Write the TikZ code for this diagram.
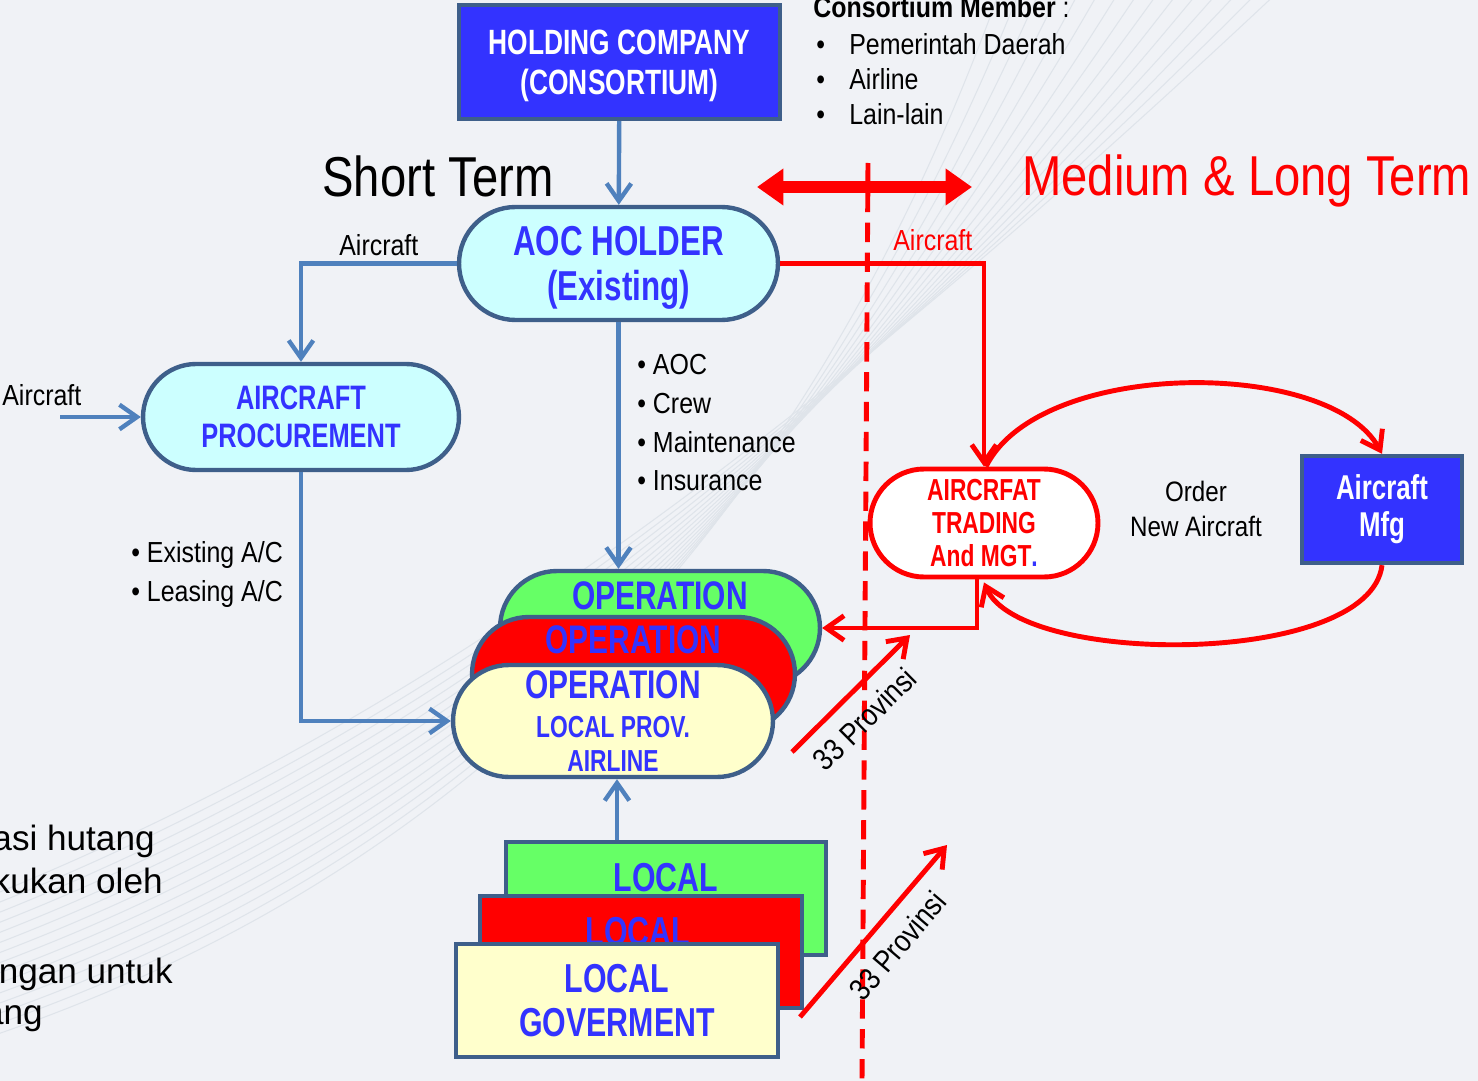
\documentclass[tikz,border=0pt]{standalone}
\usepackage{fontspec}
\setmainfont{Liberation Sans}
\newfontfamily\boxfont[FakeStretch=0.75]{Liberation Sans}
\newfontfamily\narrowfont[FakeStretch=0.86]{Liberation Sans}
\newfontfamily\titlefont[FakeStretch=0.84]{Liberation Sans}
\usetikzlibrary{arrows.meta,shapes.misc}
\definecolor{steelblue}{HTML}{4F81BD}
\definecolor{edgeblue}{HTML}{3E5F8A}
\definecolor{royal}{HTML}{3333FF}
\definecolor{paleaqua}{HTML}{CCFFFF}
\definecolor{limegreen}{HTML}{66FF66}
\definecolor{paleyellow}{HTML}{FFFFCC}
\definecolor{slidebg}{HTML}{F0F2F6}
\definecolor{swoosh}{HTML}{DFE4EA}

\begin{document}
\begin{tikzpicture}[x=0.02cm,y=-0.02cm,align=center,>={Straight Barb[length=10pt,width=14pt]}]
	\tikzstyle{darkbox}=[rectangle,draw=edgeblue,fill=royal,line width=2.5pt,text=white,font=\boxfont\bfseries]
	\tikzstyle{pill}=[rounded rectangle,draw=edgeblue,line width=2.5pt,text=royal,font=\boxfont\bfseries,inner sep=0pt]
	\tikzstyle{stackbox}=[rectangle,draw=edgeblue,line width=2.5pt,text=royal,font=\boxfont\bfseries,inner sep=0pt]
	\tikzstyle{bluelink}=[->,draw=steelblue,line width=2.5pt]
	\tikzstyle{redlink}=[->,draw=red,line width=2.8pt]
	\tikzstyle{labeltext}=[font=\narrowfont\fontsize{16.5}{20}\selectfont,inner sep=0pt]
	\tikzstyle{provtext}=[font=\narrowfont\fontsize{17.5}{20}\selectfont,inner sep=0pt,sloped,below=8pt]
	\tikzstyle{titletext}=[font=\titlefont\fontsize{32}{36}\selectfont,inner sep=0pt]
	\tikzstyle{slidetext}=[font=\fontsize{20}{24}\selectfont,inner sep=0pt]

	\useasboundingbox (0,0) rectangle (1478,1081);
	\clip (0,0) rectangle (1478,1081);
	\fill[slidebg] (0,0) rectangle (1478,1081);
	\foreach \i in {0,...,14}
		\draw[swoosh,line width=0.6pt] (-20,1040-\i*10) .. controls (400,900-\i*12) and (780,600-\i*10) .. (1000+\i*20,-10);

	\node[slidetext,anchor=base east](cut_a) at (155,850){asi hutang};
	\node[slidetext,anchor=base east](cut_b) at (163,893){kukan oleh};
	\node[slidetext,anchor=base east](cut_c) at (173,983){ngan untuk};
	\node[slidetext,anchor=base east](cut_d) at (43,1024){ang};

	\coordinate (divider_top) at (868,163);
	\coordinate (divider_bottom) at (862,1081);
	\draw[red,line width=2.8pt,dash pattern=on 11pt off 6pt](divider_top) -- (divider_bottom);

	\node[darkbox,minimum width=6.42cm,minimum height=2.28cm,text depth=0pt,font=\boxfont\bfseries\fontsize{20}{23}\selectfont](holding) at (619.5,62){HOLDING COMPANY\\(CONSORTIUM)};
	\node[labeltext,anchor=base west](members_title) at (813,18){\textbf{Consortium Member} :};
	\node[labeltext,anchor=base west](member_a) at (816,55){\makebox[0.66cm][l]{\textbullet}Pemerintah Daerah};
	\node[labeltext,anchor=base west](member_b) at (816,90){\makebox[0.66cm][l]{\textbullet}Airline};
	\node[labeltext,anchor=base west](member_c) at (816,125){\makebox[0.66cm][l]{\textbullet}Lain-lain};

	\node[titletext,anchor=base west](short_term) at (322,197){Short Term};
	\node[titletext,anchor=base west,text=red](long_term) at (1022,196){Medium \& Long Term};
	\coordinate (term_left) at (757,187);
	\coordinate (term_right) at (972,187);
	\draw[red,line width=6.6pt,{Triangle[length=15pt,width=20pt]}-{Triangle[length=15pt,width=20pt]}](term_left) -- (term_right);

	\node[pill,fill=paleaqua,minimum width=6.38cm,minimum height=2.26cm,text depth=0pt,font=\boxfont\bfseries\fontsize{23.8}{25.5}\selectfont](aoc_holder) at (618.5,263.5){AOC HOLDER\\(Existing)};
	\node[pill,fill=paleaqua,minimum width=6.32cm,minimum height=2.12cm,font=\boxfont\bfseries\fontsize{19.3}{21.5}\selectfont](procurement) at (301,417){AIRCRAFT\\PROCUREMENT};

	\node[labeltext,anchor=base west](aircraft_top) at (339,256){Aircraft};
	\node[labeltext,anchor=base west](aircraft_left) at (2,405){Aircraft};
	\coordinate (aircraft_in) at (60,417);

	\node[labeltext,anchor=base west](list_aoc) at (637,375){\textbullet{} AOC};
	\node[labeltext,anchor=base west](list_crew) at (637,413){\textbullet{} Crew};
	\node[labeltext,anchor=base west](list_maint) at (637,452){\textbullet{} Maintenance};
	\node[labeltext,anchor=base west](list_insur) at (637,490){\textbullet{} Insurance};
	\node[labeltext,anchor=base west](list_existing) at (131,562){\textbullet{} Existing A/C};
	\node[labeltext,anchor=base west](list_leasing) at (131,601){\textbullet{} Leasing A/C};

	\node[pill,fill=limegreen,minimum width=6.4cm,minimum height=2.28cm](op_back) at (660,628){};
	\node[text=royal,font=\boxfont\bfseries\fontsize{22.7}{24}\selectfont](op_back_title) at (660,596){OPERATION};
	\node[pill,fill=red,minimum width=6.46cm,minimum height=2.28cm](op_mid) at (633.5,674){};
	\node[text=royal,font=\boxfont\bfseries\fontsize{22.7}{24}\selectfont](op_mid_title) at (633.5,640){OPERATION};
	\node[pill,fill=paleyellow,minimum width=6.4cm,minimum height=2.24cm,font=\boxfont\bfseries\fontsize{17.3}{19.3}\selectfont](op_front) at (613,721){{\fontsize{22.7}{22}\selectfont OPERATION}\\[3pt]LOCAL PROV.\\AIRLINE};

	\node[stackbox,fill=limegreen,minimum width=6.4cm,minimum height=2.26cm](local_back) at (666,898.5){};
	\node[text=royal,font=\boxfont\bfseries\fontsize{23}{25}\selectfont](local_back_title) at (666,878){LOCAL};
	\node[stackbox,fill=red,minimum width=6.44cm,minimum height=2.24cm](local_mid) at (641,952){};
	\node[text=royal,font=\boxfont\bfseries\fontsize{23}{25}\selectfont](local_mid_title) at (638,932){LOCAL};
	\node[stackbox,fill=paleyellow,minimum width=6.44cm,minimum height=2.26cm,font=\boxfont\bfseries\fontsize{23}{25.5}\selectfont](local_front) at (617,1000.5){LOCAL\\GOVERMENT};

	\node[pill,draw=red,fill=white,line width=2.8pt,text=red,minimum width=4.56cm,minimum height=2.16cm,font=\boxfont\bfseries\fontsize{17.3}{19}\selectfont](trading) at (984,523){AIRCRFAT\\TRADING\\And MGT\textcolor{royal}{.}};
	\node[darkbox,minimum width=3.2cm,minimum height=2.14cm,font=\boxfont\bfseries\fontsize{19.6}{21}\selectfont](mfg) at (1382,509.5){Aircraft\\Mfg};
	\node[labeltext,font=\narrowfont\fontsize{16}{20.4}\selectfont](order_label) at (1196,509){Order\\New Aircraft};
	\node[labeltext,anchor=base west,text=red](aircraft_red) at (893,251){Aircraft};

	\draw[bluelink](holding) -- (aoc_holder);
	\draw[bluelink](aoc_holder.west) -| (procurement.north);
	\draw[bluelink](aircraft_in) -- (procurement.west);
	\draw[bluelink](procurement.south) |- (op_front.west);
	\draw[bluelink](aoc_holder.south) -- (aoc_holder.south|-op_back.north);
	\draw[bluelink]([xshift=0.08cm]op_front.south|-local_back.north) -- ([xshift=0.08cm]op_front.south);

	\draw[redlink](aoc_holder.east) -| (trading.north);
	\draw[redlink]([xshift=-0.14cm]trading.south) |- (op_back.east);
	\draw[redlink]([xshift=0.04cm]trading.north) .. controls (1040,358) and (1330,358) .. (mfg.north);
	\draw[redlink](mfg.south) .. controls (1370,667) and (1020,667) .. ([yshift=-0.06cm]trading.south);

	\coordinate (prov_a_start) at (792,752);
	\coordinate (prov_a_end) at (910,635);
	\draw[redlink](prov_a_start) -- node[pos=0.45,provtext]{33 Provinsi} (prov_a_end);
	\coordinate (prov_b_start) at (800,1017);
	\coordinate (prov_b_end) at (947,845);
	\draw[redlink](prov_b_start) -- node[pos=0.52,provtext]{33 Provinsi} (prov_b_end);
\end{tikzpicture}
\end{document}
